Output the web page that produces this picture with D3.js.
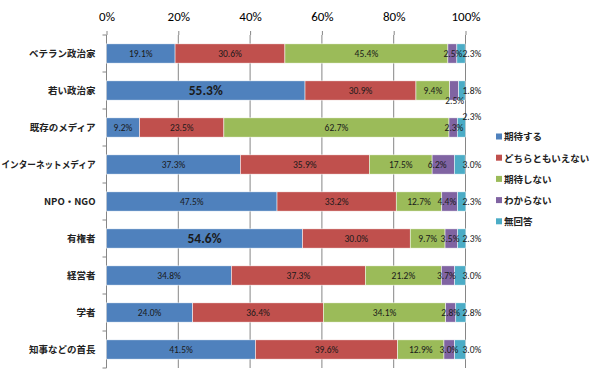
<!DOCTYPE html>
<html>
<head>
<meta charset="utf-8">
<script src="https://cdn.jsdelivr.net/npm/d3@7"></script>
<style>
  body { margin: 0; background: #fff; }
  text { font-family: "Noto Sans CJK JP", "Noto Sans", sans-serif; }
</style>
</head>
<body>
<div id="chart"></div>
<script>
var categories = ["ベテラン政治家", "若い政治家", "既存のメディア", "インターネットメディア", "NPO・NGO", "有権者", "経営者", "学者", "知事などの首長"];
var seriesNames = ["期待する", "どちらともいえない", "期待しない", "わからない", "無回答"];
var kitai      = [19.1, 55.3, 9.2, 37.3, 47.5, 54.6, 34.8, 24.0, 41.5];
var dochira    = [30.6, 30.9, 23.5, 35.9, 33.2, 30.0, 37.3, 36.4, 39.6];
var kitaiShinai = [45.4, 9.4, 62.7, 17.5, 12.7, 9.7, 21.2, 34.1, 12.9];
var wakaranai  = [2.5, 2.5, 2.3, 6.2, 4.4, 3.5, 3.7, 2.8, 3.0];
var mukaitou   = [2.3, 1.8, 2.3, 3.0, 2.3, 2.3, 3.0, 2.8, 3.0];
var xTicks = [0, 20, 40, 60, 80, 100];
var colors = ["#4F81BD", "#C0504D", "#9BBB59", "#8064A2", "#4BACC6"];

var svgWidth = 590, svgHeight = 376;
var margin = { top: 35, left: 106.5, right: 124.5, bottom: 8 };
var width = svgWidth - margin.left - margin.right;
var height = svgHeight - margin.top - margin.bottom;

var svg = d3.select("#chart").append("svg")
  .attr("width", svgWidth)
  .attr("height", svgHeight);

var g = svg.append("g").attr("transform", `translate(${margin.left},${margin.top})`);

// build rows for stacking
var keys = ["k0", "k1", "k2", "k3", "k4"];
var seriesArr = [kitai, dochira, kitaiShinai, wakaranai, mukaitou];
var rows = categories.map(function(c, i) {
  var r = { cat: c };
  keys.forEach(function(k, j) { r[k] = seriesArr[j][i]; });
  return r;
});
var stacked = d3.stack().keys(keys)(rows);

var x = d3.scaleLinear().domain([0, 100]).range([0, width]);
var y = d3.scaleBand().domain(categories).range([0, height]).paddingInner(0.48).paddingOuter(0.24);

// gridlines
g.append("g").selectAll("line")
  .data(xTicks.slice(1))
  .enter().append("line")
  .attr("x1", d => x(d)).attr("x2", d => x(d))
  .attr("y1", 0).attr("y2", height)
  .attr("stroke", "#868686").attr("stroke-width", 1);

// top axis
var xAxis = d3.axisTop(x).tickValues(xTicks).tickFormat(d => d + "%").tickSize(4).tickSizeOuter(0);
var ax = g.append("g").call(xAxis);
ax.select(".domain").attr("stroke", "none");
ax.selectAll(".tick line").attr("stroke", "#868686");
ax.selectAll(".tick text")
  .attr("y", -19)
  .attr("dy", "0.35em")
  .style("font-family", "Carlito, 'Liberation Sans', sans-serif")
  .style("font-size", "13px")
  .attr("fill", "#000");

// left axis with ticks between categories
g.append("line").attr("x1", 0).attr("x2", 0).attr("y1", 0).attr("y2", height).attr("stroke", "#868686");
var step = height / categories.length;
g.append("g").selectAll("line")
  .data(d3.range(categories.length + 1))
  .enter().append("line")
  .attr("x1", -4).attr("x2", 0)
  .attr("y1", d => d * step).attr("y2", d => d * step)
  .attr("stroke", "#868686");

// category labels
var catLabels = g.append("g").selectAll("text")
  .data(categories)
  .enter().append("text")
  .attr("x", -11)
  .attr("y", d => y(d) + y.bandwidth() / 2)
  .attr("dy", "0.35em")
  .attr("text-anchor", "end")
  .style("font-size", "9.5px")
  .style("font-weight", "bold")
  .attr("fill", "#222")
  .text(d => d);
// squeeze long labels so they fit in the margin
catLabels.each(function() {
  var w = this.getComputedTextLength();
  if (w > 94) d3.select(this).attr("textLength", 94).attr("lengthAdjust", "spacingAndGlyphs");
});

// bars
var layers = g.append("g").selectAll("g")
  .data(stacked)
  .enter().append("g")
  .attr("fill", (d, i) => colors[i]);

layers.selectAll("rect")
  .data(d => d)
  .enter().append("rect")
  .attr("x", d => x(d[0]))
  .attr("y", d => y(d.data.cat))
  .attr("width", d => x(d[1]) - x(d[0]))
  .attr("height", y.bandwidth())
  .attr("stroke", "#fff")
  .attr("stroke-width", 0.5);

// labels
var labelData = [];
stacked.forEach(function(layer, li) {
  layer.forEach(function(d) {
    var v = d[1] - d[0];
    var cx = x((d[0] + d[1]) / 2);
    var cy = y(d.data.cat) + y.bandwidth() / 2;
    var anchor = "middle";
    var big = li === 0 && v > 50;
    if (li === 4) { cx = x(100) - 3; anchor = "start"; }
    if (li === 3) { cx = x(d[0]) + 5; }
    // hand-moved labels where segments are too narrow
    if (d.data.cat === "若い政治家" && li === 3) cy += 10;
    if (d.data.cat === "既存のメディア" && li === 4) cy -= 11;
    labelData.push({ text: v.toFixed(1) + "%", x: cx, y: cy, anchor: anchor, big: big });
  });
});

g.append("g").selectAll("text")
  .data(labelData)
  .enter().append("text")
  .attr("x", d => d.x)
  .attr("y", d => d.y)
  .attr("dy", "0.35em")
  .attr("text-anchor", d => d.anchor)
  .style("font-family", "Carlito, 'Liberation Sans', sans-serif")
  .style("font-size", d => d.big ? "13.5px" : "9.5px")
  .style("font-weight", d => d.big ? "bold" : "normal")
  .attr("fill", "#1a1a1a")
  .text(d => d.text);

// legend
var legend = svg.append("g").attr("transform", "translate(496,137)");
var item = legend.selectAll("g")
  .data(seriesNames)
  .enter().append("g")
  .attr("transform", (d, i) => `translate(0,${i * 21.2})`);
item.append("rect")
  .attr("x", 0).attr("y", -3.5).attr("width", 6).attr("height", 6)
  .attr("fill", (d, i) => colors[i]);
item.append("text")
  .attr("x", 8).attr("y", 0).attr("dy", "0.35em")
  .style("font-size", "9.5px")
  .style("font-weight", "bold")
  .attr("fill", "#222")
  .text(d => d);
</script>
</body>
</html>
